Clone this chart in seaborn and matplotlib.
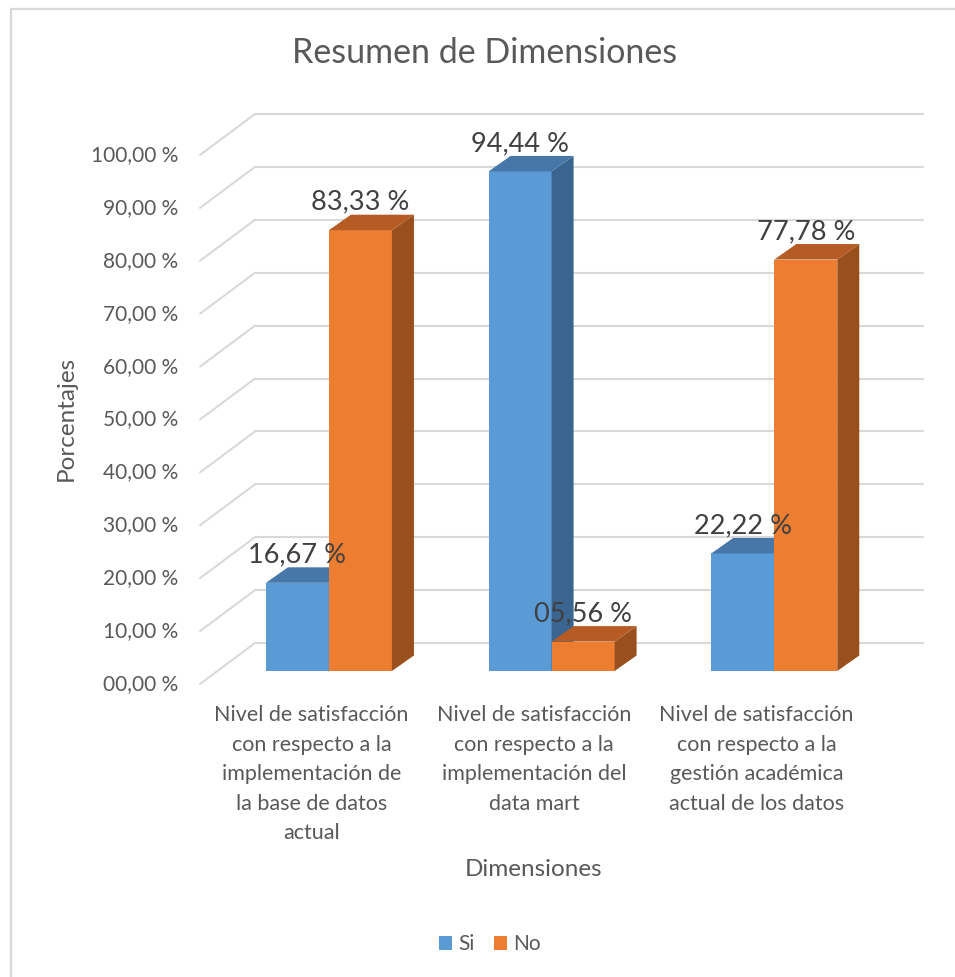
import matplotlib
matplotlib.use("Agg")
import matplotlib.pyplot as plt
from matplotlib.patches import Polygon, Patch
from matplotlib.lines import Line2D
import seaborn as sns
import pandas as pd

# ---- data ----
categories = [
    "Nivel de satisfacción\ncon respecto a la\nimplementación de\nla base de datos\nactual",
    "Nivel de satisfacción\ncon respecto a la\nimplementación del\ndata mart",
    "Nivel de satisfacción\ncon respecto a la\ngestión académica\nactual de los datos",
]
series = ["Si", "No"]
si_values = [16.67, 94.44, 22.22]
no_values = [83.33, 5.56, 77.78]
y_ticks = [0, 10, 20, 30, 40, 50, 60, 70, 80, 90, 100]

title = "Resumen de Dimensiones"
x_title = "Dimensiones"
y_title = "Porcentajes"

BLUE, ORANGE = "#5B9BD5", "#ED7D31"
BLUE_TOP, BLUE_SIDE = "#4677A8", "#3B6591"
ORANGE_TOP, ORANGE_SIDE = "#B55B23", "#9A501D"
GRID = "#D9D9D9"
TXT = "#595959"
LBL = "#404040"

df = pd.DataFrame({
    "Dimension": categories * 2,
    "Serie": [series[0]] * 3 + [series[1]] * 3,
    "Porcentaje": si_values + no_values,
})

sns.set_style("white")
plt.rcParams["font.family"] = ["Lato", "DejaVu Sans"]

W, H, DPI = 955, 977, 100
fig = plt.figure(figsize=(W / DPI, H / DPI), dpi=DPI)

# axes = plane of the bars' front faces (pixel geometry of the layout)
AX_L, AX_R, AX_T, AX_B = 217.6, 885.6, 142.0, 671.0
ax = fig.add_axes([AX_L / W, 1 - AX_B / H, (AX_R - AX_L) / W, (AX_B - AX_T) / H])

sns.barplot(data=df, x="Dimension", y="Porcentaje", hue="Serie",
            palette=[BLUE, ORANGE], saturation=1, width=0.566,
            legend=False, ax=ax)
ax.set_xlim(-0.5, 2.5)
ax.set_ylim(0, 100)
ax.axis("off")

# pixel -> data conversion
PX_X = 3.0 / (AX_R - AX_L)
PX_Y = 100.0 / (AX_B - AX_T)

FRONT = (-17.6, -13.0)   # front edge of the floor/wall, relative to bar plane
BACK = (37.4, 28.0)      # back wall, relative to bar plane
DEPTH = (22.0, 15.5)     # depth of each bar

# back wall gridlines and the left wall diagonals
x0, x1 = -0.5, 2.5
for t in y_ticks:
    bx0 = x0 + BACK[0] * PX_X
    bx1 = x1 + BACK[0] * PX_X
    by = t + BACK[1] * PX_Y
    fx = x0 + FRONT[0] * PX_X
    fy = t + FRONT[1] * PX_Y
    ax.add_line(Line2D([bx0, bx1], [by, by], color=GRID, lw=1.5,
                       zorder=0.5, clip_on=False))
    ax.add_line(Line2D([fx, bx0], [fy, by], color=GRID, lw=1.5,
                       zorder=0.5, clip_on=False))

# 3-D faces of every bar
dx, dy = DEPTH[0] * PX_X, DEPTH[1] * PX_Y
faces = {BLUE: (BLUE_TOP, BLUE_SIDE, 2), ORANGE: (ORANGE_TOP, ORANGE_SIDE, 3)}
bars = [p for p in ax.patches if p.get_height() > 0]
for bar in bars:
    fc = matplotlib.colors.to_hex(bar.get_facecolor())
    top_c, side_c, z = faces[BLUE] if fc.lower() == BLUE.lower() else faces[ORANGE]
    bar.set_zorder(z)
    bar.set_linewidth(0)
    xl = bar.get_x()
    xr = xl + bar.get_width()
    h = bar.get_height()
    side = Polygon([(xr, 0), (xr + dx, dy), (xr + dx, h + dy), (xr, h)],
                   closed=True, fc=side_c, ec="none", zorder=z + 0.4, clip_on=False)
    top = Polygon([(xl, h), (xr, h), (xr + dx, h + dy), (xl + dx, h + dy)],
                  closed=True, fc=top_c, ec="none", zorder=z + 0.5, clip_on=False)
    ax.add_patch(side)
    ax.add_patch(top)
    ax.annotate(f"{h:05.2f}".replace(".", ",") + " %",
                xy=(xl + bar.get_width() / 2, h), xytext=(0, DEPTH[1] + 5),
                textcoords="offset pixels", ha="center", va="baseline",
                fontsize=19.5, color=LBL, zorder=6, annotation_clip=False)

# value axis labels on the front edge
for t in y_ticks:
    ax.annotate(f"{t:05.2f}".replace(".", ",") + " %",
                xy=(x0, t), xytext=(FRONT[0] - 22, FRONT[1]),
                textcoords="offset pixels", ha="right", va="center",
                fontsize=15, color=TXT, annotation_clip=False)

# category labels
for i, cat in enumerate(categories):
    ax.annotate(cat, xy=(i, 0), xytext=(FRONT[0], FRONT[1] - 21),
                textcoords="offset pixels", ha="center", va="top",
                fontsize=15.5, color=TXT, linespacing=1.6, annotation_clip=False)

# axis titles and chart title
fig.text(534 / W, 1 - 870 / H, x_title, ha="center", va="center",
         fontsize=17.5, color=TXT)
fig.text(66 / W, 1 - 418 / H, y_title, ha="center", va="center",
         rotation=90, fontsize=17.5, color=TXT)
fig.text(485 / W, 1 - 53 / H, title, ha="center", va="center",
         fontsize=24.5, color=TXT)

# legend
handles = [Patch(fc=BLUE, ec="none"), Patch(fc=ORANGE, ec="none")]
fig.legend(handles, series, loc="center", bbox_to_anchor=(490 / W, 1 - 944 / H),
           ncol=2, frameon=False, fontsize=15, handlelength=0.65, handleheight=0.65,
           handletextpad=0.3, columnspacing=0.9, labelcolor=TXT)

# chart area border (top and left edges)
fig.add_artist(Line2D([10.5 / W, 1.0], [1 - 8.5 / H, 1 - 8.5 / H],
                      transform=fig.transFigure, color=GRID, lw=1.6))
fig.add_artist(Line2D([10.5 / W, 10.5 / W], [0.0, 1 - 8.5 / H],
                      transform=fig.transFigure, color=GRID, lw=1.6))

fig.savefig("out.png", dpi=DPI, facecolor="white")
